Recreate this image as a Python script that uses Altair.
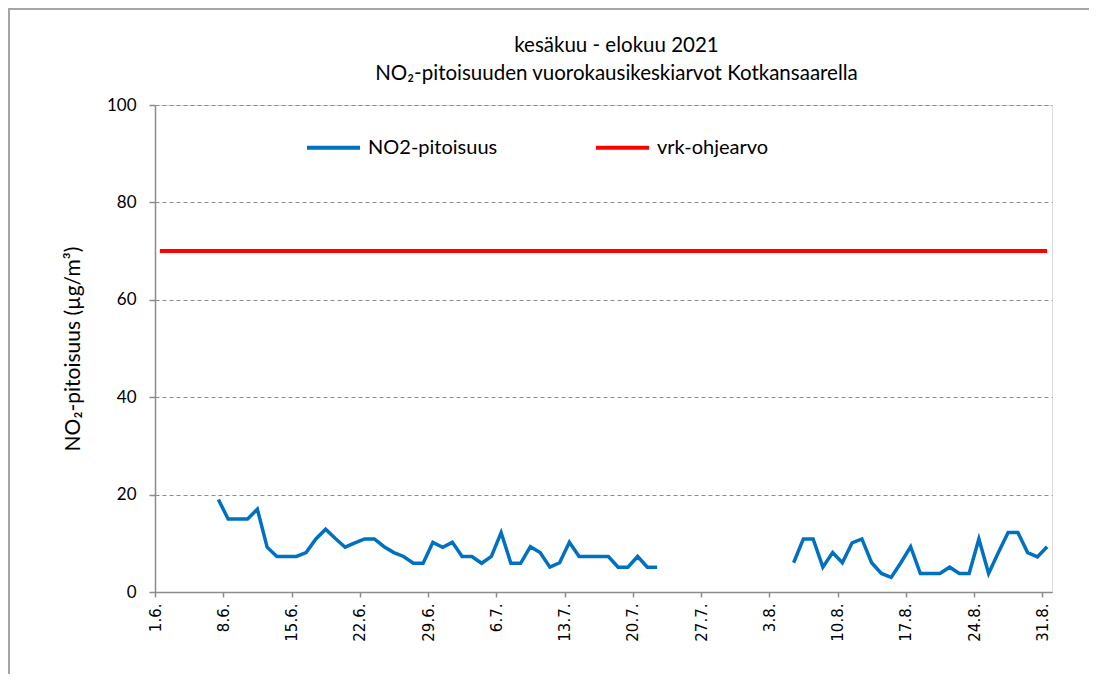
import altair as alt
import pandas as pd

# ---- data ----
title_lines = ["kesäkuu - elokuu 2021", "NO₂-pitoisuuden vuorokausikeskiarvot Kotkansaarella"]
y_title = "NO₂-pitoisuus (µg/m³)"
series_names = ["NO2-pitoisuus", "vrk-ohjearvo"]
series_colors = ["#0070C0", "#FF0000"]

# daily means, 7.6. - 22.7.
seg1_start = "2021-06-07"
seg1_values = [19, 15, 15, 15, 17, 9.2, 7.3, 7.3, 7.3, 8.1, 10.9, 12.9, 11, 9.2,
               10.1, 10.9, 10.9, 9.3, 8.1, 7.3, 5.9, 5.9, 10.2, 9.2,
               10.2, 7.3, 7.3, 5.9, 7.3, 12.2, 5.9, 5.9, 9.3, 8.1, 5.1, 6.0,
               10.2, 7.3, 7.3, 7.3, 7.3, 5.1, 5.1, 7.3, 5.1, 5.1]
# daily means, 5.8. - 31.8.
seg2_start = "2021-08-05"
seg2_values = [6.0, 10.9, 10.9, 5.1, 8.1, 6.0, 10.1, 10.9, 6.0, 3.8, 3.0, 6.0,
               9.3, 3.8, 3.8, 3.8, 5.1, 3.8, 3.8, 10.9, 3.8, 8.1, 12.2, 12.2,
               8.1, 7.2, 9.3]

period_start = "2021-06-01"
period_end = "2021-08-31"
guideline_value = 70

tick_dates = ["2021-06-01", "2021-06-08", "2021-06-15", "2021-06-22", "2021-06-29",
              "2021-07-06", "2021-07-13", "2021-07-20", "2021-07-27", "2021-08-03",
              "2021-08-10", "2021-08-17", "2021-08-24", "2021-08-31"]
y_ticks = [0, 20, 40, 60, 80, 100]

# ---- build tables ----
def iso_noon(d):
    return (d + pd.Timedelta(hours=12)).strftime("%Y-%m-%dT%H:%M:%SZ")

rows = []
for seg_id, (start, vals) in enumerate([(seg1_start, seg1_values), (seg2_start, seg2_values)]):
    days = pd.date_range(start, periods=len(vals), freq="D")
    for d, v in zip(days, vals):
        rows.append({"t": iso_noon(d), "value": v, "segment": seg_id, "series": series_names[0]})
no2_df = pd.DataFrame(rows)

guide_days = pd.date_range(period_start, period_end, freq="D")
guide_df = pd.DataFrame({"t": [iso_noon(d) for d in guide_days],
                         "value": [guideline_value] * len(guide_days),
                         "series": [series_names[1]] * len(guide_days)})

def dt(s):
    ts = pd.Timestamp(s)
    return alt.DateTime(year=ts.year, month=ts.month, date=ts.day, utc=True)

x_end = pd.Timestamp(period_end) + pd.Timedelta(days=1)

x_enc = alt.X("t:T",
              scale=alt.Scale(type="utc", domain=[dt(period_start), dt(x_end)]),
              axis=alt.Axis(values=[dt(s) for s in tick_dates], format="%-d.%-m.",
                            title=None, grid=False, labelAngle=-90,
                            labelFont="DejaVu Sans", labelFontSize=15, labelColor="#000000",
                            tickSize=5, labelPadding=6, tickColor="#8C8C8C",
                            domainColor="#8C8C8C", domainWidth=1.5, tickWidth=1.5))
y_enc = alt.Y("value:Q",
              scale=alt.Scale(domain=[0, 100], nice=False),
              axis=alt.Axis(values=y_ticks, title=y_title, titleFont="Lato",
                            titleFontSize=21, titleFontWeight="normal", titleColor="#000000",
                            titlePadding=23, labelFont="Lato", labelFontSize=17,
                            labelColor="#000000", tickSize=6, labelPadding=13,
                            tickColor="#8C8C8C", domainColor="#8C8C8C", domainWidth=1.5,
                            tickWidth=1.5, grid=True, gridColor="#8C8C8C",
                            gridDash=[4, 3], gridWidth=1))
color_enc = alt.Color("series:N",
                      scale=alt.Scale(domain=series_names, range=series_colors),
                      legend=alt.Legend(title=None, orient="none", direction="horizontal",
                                        legendX=150, legendY=14, symbolType="stroke",
                                        symbolSize=2809, symbolStrokeWidth=4,
                                        labelFont="Lato", labelFontSize=20,
                                        labelColor="#000000", labelOffset=6,
                                        columnPadding=90))

no2_line = alt.Chart(no2_df).mark_line(strokeWidth=3.5).encode(
    x=x_enc, y=y_enc, color=color_enc, detail="segment:N")
guide_line = alt.Chart(guide_df).mark_line(strokeWidth=4).encode(
    x=x_enc, y=y_enc, color=color_enc)

frame_df = pd.DataFrame({"k": [0]})
frame_left = alt.Chart(frame_df).mark_rule(color="#A6A6A6", strokeWidth=2).encode(
    x=alt.value(-146), y=alt.value(-96), y2=alt.value(600))
frame_top = alt.Chart(frame_df).mark_rule(color="#A6A6A6", strokeWidth=2).encode(
    x=alt.value(-147), x2=alt.value(960), y=alt.value(-96))

chart = alt.layer(guide_line, no2_line, frame_left, frame_top).properties(
    width=897, height=487,
    autosize=alt.AutoSizeParams(type="none"),
    padding={"left": 147, "top": 97, "right": 37, "bottom": 82},
    title=alt.TitleParams(text=title_lines, font="Lato", fontSize=20.5,
                          fontWeight="normal", color="#000000", anchor="middle",
                          dx=13, dy=97, offset=21, lineHeight=28),
).configure_view(stroke=None).configure(background="#FFFFFF")

chart.save("out.html", embed_options={"renderer": "svg", "actions": False})
